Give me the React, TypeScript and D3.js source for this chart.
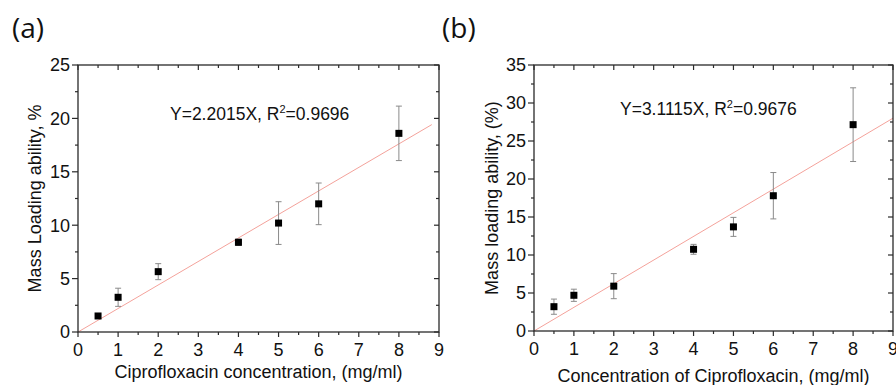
import React, { useEffect, useRef } from 'react';
import * as d3 from 'd3';

// Panel (a)
const concA = [0.5, 1, 2, 4, 5, 6, 8];
const loadingA = [1.5, 3.25, 5.65, 8.4, 10.2, 12.0, 18.6];
const errA = [0.15, 0.85, 0.75, 0.3, 2.0, 1.95, 2.55];
const slopeA = 2.2015;
const fitRangeA = [0, 8.82];

// Panel (b)
const concB = [0.5, 1, 2, 4, 5, 6, 8];
const loadingB = [3.2, 4.7, 5.9, 10.75, 13.7, 17.8, 27.15];
const errB = [1.0, 0.8, 1.65, 0.65, 1.25, 3.05, 4.85];
const slopeB = 3.1115;
const fitRangeB = [0, 9];

const xTicks = [0, 1, 2, 3, 4, 5, 6, 7, 8, 9];
const yTicksA = [0, 5, 10, 15, 20, 25];
const yTicksB = [0, 5, 10, 15, 20, 25, 30, 35];

const FONT = '"Liberation Sans", Arial, sans-serif';
const AXIS = '#2a2a2a';

interface PanelSpec {
  tag: string;
  conc: number[];
  loading: number[];
  err: number[];
  slope: number;
  fitRange: number[];
  yTicks: number[];
  yMax: number;
  r2: string;
  xTitle: string;
  yTitle: string;
  box: { left: number; right: number; top: number; bottom: number };
  tagX: number;
  eqX: number;
  eqY: number;
  xTitleY: number;
  yTitleX: number;
}

const panels: PanelSpec[] = [
  {
    tag: '(a)', conc: concA, loading: loadingA, err: errA, slope: slopeA, fitRange: fitRangeA,
    yTicks: yTicksA, yMax: 25, r2: '0.9696',
    xTitle: 'Ciprofloxacin concentration, (mg/ml)', yTitle: 'Mass Loading ability, %',
    box: { left: 78, right: 439, top: 65, bottom: 332 },
    tagX: 12, eqX: 170, eqY: 120, xTitleY: 378, yTitleX: 41
  },
  {
    tag: '(b)', conc: concB, loading: loadingB, err: errB, slope: slopeB, fitRange: fitRangeB,
    yTicks: yTicksB, yMax: 35, r2: '0.9676',
    xTitle: 'Concentration of Ciprofloxacin, (mg/ml)', yTitle: 'Mass loading ability, (%)',
    box: { left: 534, right: 893, top: 65, bottom: 331 },
    tagX: 442, eqX: 620, eqY: 115, xTitleY: 382, yTitleX: 498
  }
];

function drawPanel(svg: d3.Selection<SVGSVGElement, unknown, null, undefined>, p: PanelSpec) {
  const { left, right, top, bottom } = p.box;
  const x = d3.scaleLinear().domain([0, 9]).range([left, right]);
  const y = d3.scaleLinear().domain([0, p.yMax]).range([bottom, top]);
  const g = svg.append('g');

  // panel tag
  g.append('text')
    .attr('x', p.tagX).attr('y', 38)
    .attr('font-family', '"Open Sans", sans-serif')
    .attr('font-size', 28)
    .attr('fill', '#111')
    .text(p.tag);

  // fit line
  const line = d3.line<number>().x(d => x(d)).y(d => y(p.slope * d));
  g.append('path')
    .attr('d', line(p.fitRange) as string)
    .attr('fill', 'none')
    .attr('stroke', '#f4a29b')
    .attr('stroke-width', 1);

  // error bars
  p.conc.forEach((c, i) => {
    const cx = x(c);
    const y0 = y(p.loading[i] - p.err[i]);
    const y1 = y(p.loading[i] + p.err[i]);
    g.append('line').attr('x1', cx).attr('x2', cx).attr('y1', y0).attr('y2', y1)
      .attr('stroke', '#8a8a8a').attr('stroke-width', 1);
    [y0, y1].forEach(yy => {
      g.append('line').attr('x1', cx - 3).attr('x2', cx + 3).attr('y1', yy).attr('y2', yy)
        .attr('stroke', '#8a8a8a').attr('stroke-width', 1);
    });
  });

  // markers
  g.selectAll('rect.pt')
    .data(p.conc)
    .enter()
    .append('rect')
    .attr('class', 'pt')
    .attr('x', d => x(d) - 3.5)
    .attr('y', (d, i) => y(p.loading[i]) - 3.5)
    .attr('width', 7)
    .attr('height', 7)
    .attr('fill', '#000');

  // axes frame
  g.append('rect')
    .attr('x', left).attr('y', top)
    .attr('width', right - left).attr('height', bottom - top)
    .attr('fill', 'none').attr('stroke', AXIS).attr('stroke-width', 1.3);

  // bottom axis ticks (outward) + top ticks (inward)
  const xMinor = d3.range(0.5, 9, 1);
  xTicks.forEach(t => {
    g.append('line').attr('x1', x(t)).attr('x2', x(t)).attr('y1', bottom).attr('y2', bottom + 5)
      .attr('stroke', AXIS).attr('stroke-width', 1.2);
    g.append('line').attr('x1', x(t)).attr('x2', x(t)).attr('y1', top).attr('y2', top + 5)
      .attr('stroke', AXIS).attr('stroke-width', 1.2);
    g.append('text')
      .attr('x', x(t)).attr('y', bottom + 24)
      .attr('text-anchor', 'middle')
      .attr('font-family', FONT).attr('font-size', 18).attr('fill', '#111')
      .text(String(t));
  });
  xMinor.forEach(t => {
    g.append('line').attr('x1', x(t)).attr('x2', x(t)).attr('y1', bottom).attr('y2', bottom + 3)
      .attr('stroke', AXIS).attr('stroke-width', 1.2);
    g.append('line').attr('x1', x(t)).attr('x2', x(t)).attr('y1', top).attr('y2', top + 3)
      .attr('stroke', AXIS).attr('stroke-width', 1.2);
  });

  // left axis ticks (outward) + right ticks (inward)
  const step = p.yTicks[1] - p.yTicks[0];
  const yMinor = d3.range(step / 2, p.yMax, step);
  p.yTicks.forEach(t => {
    g.append('line').attr('x1', left - 6).attr('x2', left).attr('y1', y(t)).attr('y2', y(t))
      .attr('stroke', AXIS).attr('stroke-width', 1.2);
    g.append('line').attr('x1', right - 5).attr('x2', right).attr('y1', y(t)).attr('y2', y(t))
      .attr('stroke', AXIS).attr('stroke-width', 1.2);
    g.append('text')
      .attr('x', left - 8).attr('y', y(t))
      .attr('dy', '0.36em')
      .attr('text-anchor', 'end')
      .attr('font-family', FONT).attr('font-size', 18).attr('fill', '#111')
      .text(String(t));
  });
  yMinor.forEach(t => {
    g.append('line').attr('x1', left - 3).attr('x2', left).attr('y1', y(t)).attr('y2', y(t))
      .attr('stroke', AXIS).attr('stroke-width', 1.2);
    g.append('line').attr('x1', right - 3).attr('x2', right).attr('y1', y(t)).attr('y2', y(t))
      .attr('stroke', AXIS).attr('stroke-width', 1.2);
  });

  // axis titles
  g.append('text')
    .attr('x', (left + right) / 2).attr('y', p.xTitleY)
    .attr('text-anchor', 'middle')
    .attr('font-family', FONT).attr('font-size', 18).attr('fill', '#111')
    .text(p.xTitle);

  g.append('text')
    .attr('transform', `translate(${p.yTitleX},${(top + bottom) / 2}) rotate(-90)`)
    .attr('text-anchor', 'middle')
    .attr('font-family', FONT).attr('font-size', 18).attr('fill', '#111')
    .text(p.yTitle);

  // equation
  const eq = g.append('text')
    .attr('x', p.eqX).attr('y', p.eqY)
    .attr('font-family', FONT).attr('font-size', 17.5).attr('fill', '#111');
  eq.append('tspan').text(`Y=${p.slope}X, R`);
  eq.append('tspan').attr('dy', -7).attr('font-size', 11).text('2');
  eq.append('tspan').attr('dy', 7).text(`=${p.r2}`);
}

export default function App() {
  const svgRef = useRef<SVGSVGElement>(null);

  useEffect(() => {
    if (!svgRef.current) return;
    const svg = d3.select(svgRef.current);
    svg.selectAll('*').remove();
    panels.forEach(p => drawPanel(svg, p));
  }, []);

  return (
    <div style={{ position: 'fixed', left: 0, top: 0, background: '#fff' }}>
      <svg ref={svgRef} width={896} height={385} style={{ display: 'block' }} />
    </div>
  );
}
